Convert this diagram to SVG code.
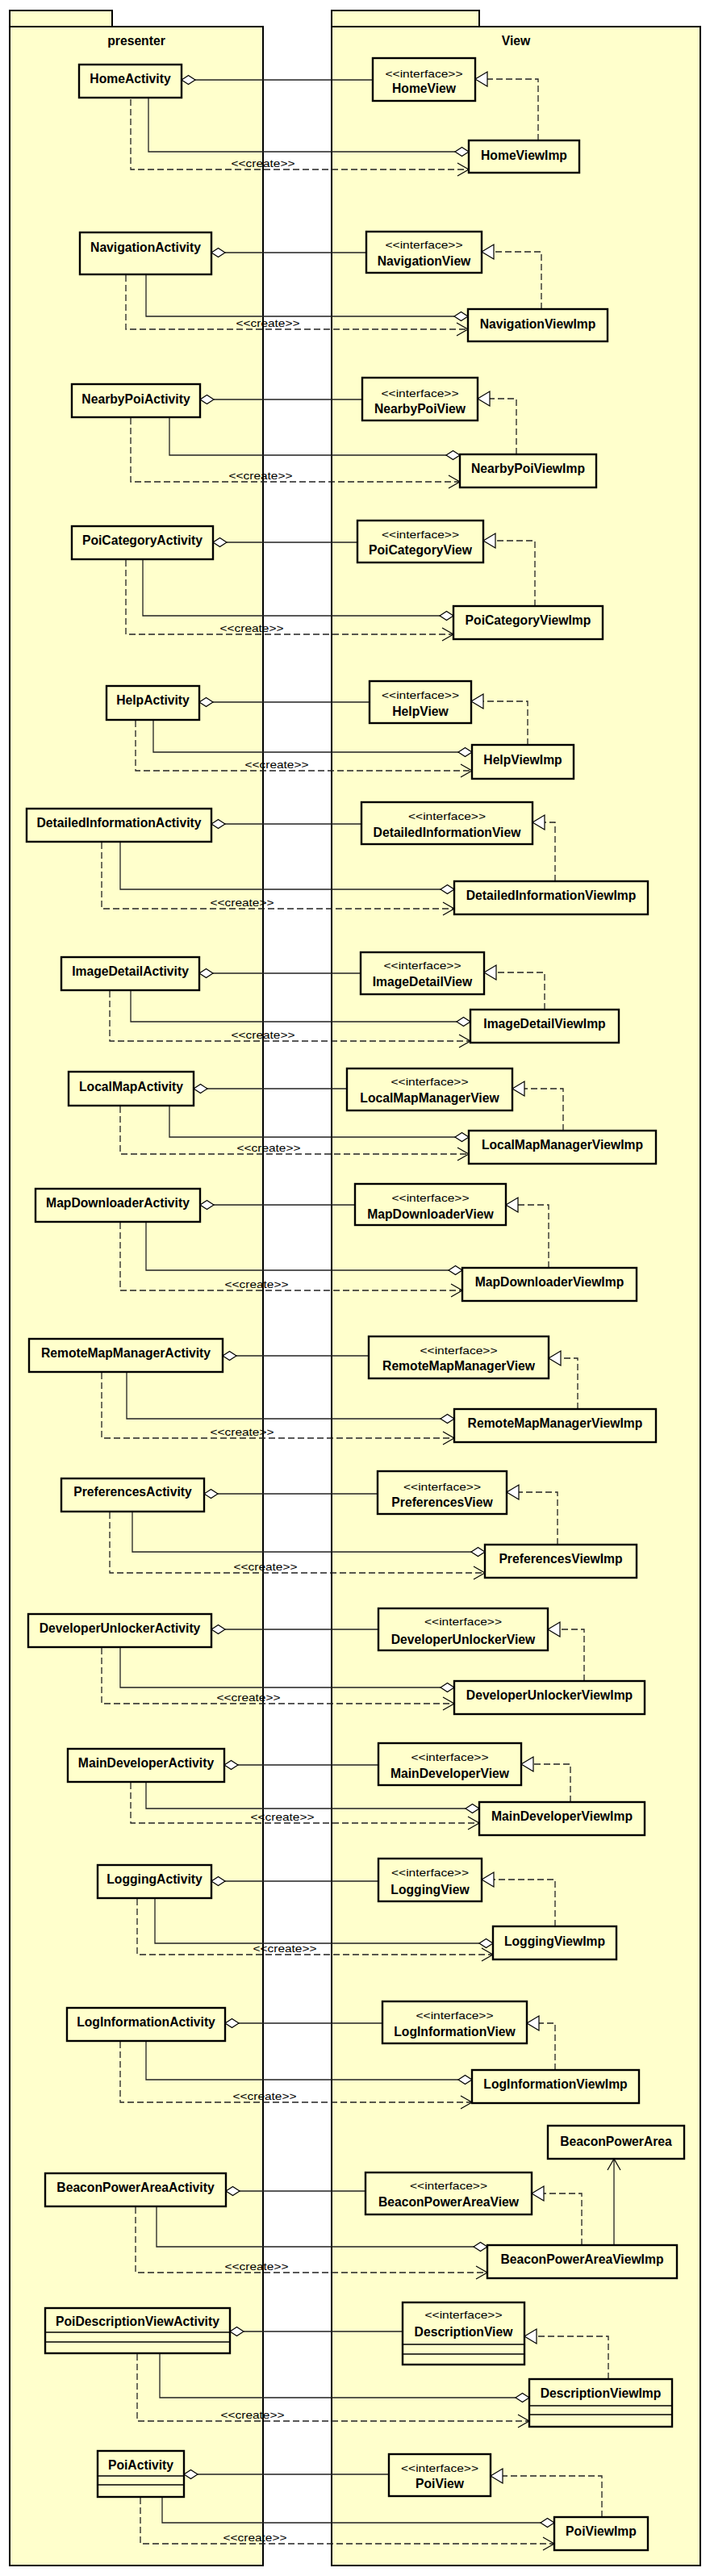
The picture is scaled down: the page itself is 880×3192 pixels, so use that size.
<svg xmlns="http://www.w3.org/2000/svg" width="880" height="3192" viewBox="0 0 880 3192">
<style>
.pk{fill:#ffffcc;stroke:#000;stroke-width:2}
.bx{fill:#ffffcc;stroke:#000;stroke-width:2.4}
.cl{stroke:#000;stroke-width:1.6}
.nm{font-family:"Liberation Sans",Arial,sans-serif;font-weight:bold;font-size:15.7px;text-anchor:middle;fill:#000}
.st{font-family:"Liberation Sans",Arial,sans-serif;font-size:13px;text-anchor:middle;fill:#000}
.ln{fill:none;stroke:#222;stroke-width:1.3}
.dl{fill:none;stroke:#222;stroke-width:1.3;stroke-dasharray:8,4}
.a1{marker-start:url(#dia)}
.a2{marker-end:url(#dia)}
.cr{marker-end:url(#opn)}
.re{marker-end:url(#tri)}
</style>
<defs>
<marker id="dia" markerUnits="userSpaceOnUse" markerWidth="20" markerHeight="14" refX="17" refY="0" orient="auto-start-reverse" style="overflow:visible"><path d="M0,0 L8.5,-5.5 L17,0 L8.5,5.5 Z" fill="#fff" stroke="#000" stroke-width="1.2"/></marker>
<marker id="opn" markerUnits="userSpaceOnUse" markerWidth="16" markerHeight="18" refX="14" refY="0" orient="auto" style="overflow:visible"><path d="M0,-8 L14,0 L0,8" fill="none" stroke="#000" stroke-width="1.2"/></marker>
<marker id="tri" markerUnits="userSpaceOnUse" markerWidth="16" markerHeight="20" refX="15" refY="0" orient="auto" style="overflow:visible"><path d="M0,-9 L15,0 L0,9 Z" fill="#fff" stroke="#000" stroke-width="1.2"/></marker>
</defs>
<rect width="880" height="3192" fill="#fff"/>
<g id="pkg-presenter">
<rect class="pk" x="12" y="13" width="127" height="20"/>
<rect class="pk" x="12" y="33" width="314" height="3146"/>
<text class="nm" x="169" y="56">presenter</text>
</g>
<g id="pkg-view">
<rect class="pk" x="411" y="13" width="183" height="20"/>
<rect class="pk" x="411" y="33" width="457" height="3146"/>
<text class="nm" x="639.5" y="56">View</text>
</g>
<g id="connectors">
<path class="ln a1" d="M225,99 H462"/><path class="ln a2" d="M184,121 V188 H581"/><path class="dl cr" d="M162,123 V210 H581"/><path class="dl re" d="M667,174 V98 H589"/><text class="st" x="326" y="206.5" textLength="79" lengthAdjust="spacingAndGlyphs">&lt;&lt;create&gt;&gt;</text>
<path class="ln a1" d="M262,313 H454"/><path class="ln a2" d="M181,340 V392 H580"/><path class="dl cr" d="M156,341 V408 H580"/><path class="dl re" d="M671,383 V312 H597"/><text class="st" x="332" y="404.5" textLength="79" lengthAdjust="spacingAndGlyphs">&lt;&lt;create&gt;&gt;</text>
<path class="ln a1" d="M248,495 H449"/><path class="ln a2" d="M210,517 V564 H570"/><path class="dl cr" d="M162,518 V597 H570"/><path class="dl re" d="M640,563 V494 H592"/><text class="st" x="323" y="593.5" textLength="79" lengthAdjust="spacingAndGlyphs">&lt;&lt;create&gt;&gt;</text>
<path class="ln a1" d="M264,672 H443"/><path class="ln a2" d="M177,693 V763 H562"/><path class="dl cr" d="M156,694 V786 H562"/><path class="dl re" d="M663,751 V670 H599"/><text class="st" x="312" y="782.5" textLength="79" lengthAdjust="spacingAndGlyphs">&lt;&lt;create&gt;&gt;</text>
<path class="ln a1" d="M247,870 H458"/><path class="ln a2" d="M190,892 V932 H585"/><path class="dl cr" d="M168,893 V955 H585"/><path class="dl re" d="M654,923 V869 H584"/><text class="st" x="343" y="951.5" textLength="79" lengthAdjust="spacingAndGlyphs">&lt;&lt;create&gt;&gt;</text>
<path class="ln a1" d="M262,1021 H448"/><path class="ln a2" d="M149,1043 V1102 H563"/><path class="dl cr" d="M126,1044 V1126 H563"/><path class="dl re" d="M688,1092 V1019 H660"/><text class="st" x="300" y="1122.5" textLength="79" lengthAdjust="spacingAndGlyphs">&lt;&lt;create&gt;&gt;</text>
<path class="ln a1" d="M247,1206 H447"/><path class="ln a2" d="M162,1227 V1266 H583"/><path class="dl cr" d="M136,1228 V1290 H583"/><path class="dl re" d="M675,1251 V1205 H600"/><text class="st" x="326" y="1286.5" textLength="79" lengthAdjust="spacingAndGlyphs">&lt;&lt;create&gt;&gt;</text>
<path class="ln a1" d="M240,1349 H430"/><path class="ln a2" d="M210,1370 V1409 H581"/><path class="dl cr" d="M149,1371 V1430 H581"/><path class="dl re" d="M698,1401 V1349 H635"/><text class="st" x="333" y="1426.5" textLength="79" lengthAdjust="spacingAndGlyphs">&lt;&lt;create&gt;&gt;</text>
<path class="ln a1" d="M248,1493 H440"/><path class="ln a2" d="M181,1514 V1574 H573"/><path class="dl cr" d="M149,1515 V1599 H573"/><path class="dl re" d="M680,1571 V1493 H627"/><text class="st" x="318" y="1595.5" textLength="79" lengthAdjust="spacingAndGlyphs">&lt;&lt;create&gt;&gt;</text>
<path class="ln a1" d="M276,1680 H457"/><path class="ln a2" d="M157,1700 V1758 H563"/><path class="dl cr" d="M126,1701 V1782 H563"/><path class="dl re" d="M716,1746 V1683 H680"/><text class="st" x="300" y="1778.5" textLength="79" lengthAdjust="spacingAndGlyphs">&lt;&lt;create&gt;&gt;</text>
<path class="ln a1" d="M253,1851 H468"/><path class="ln a2" d="M164,1873 V1923 H601"/><path class="dl cr" d="M136,1874 V1949 H601"/><path class="dl re" d="M691,1914 V1849 H628"/><text class="st" x="329" y="1945.5" textLength="79" lengthAdjust="spacingAndGlyphs">&lt;&lt;create&gt;&gt;</text>
<path class="ln a1" d="M262,2019 H469"/><path class="ln a2" d="M149,2041 V2091 H563"/><path class="dl cr" d="M126,2042 V2111 H563"/><path class="dl re" d="M724,2083 V2019 H679"/><text class="st" x="308" y="2107.5" textLength="79" lengthAdjust="spacingAndGlyphs">&lt;&lt;create&gt;&gt;</text>
<path class="ln a1" d="M278,2187 H469"/><path class="ln a2" d="M181,2208 V2241 H594"/><path class="dl cr" d="M162,2209 V2259 H594"/><path class="dl re" d="M707,2233 V2186 H646"/><text class="st" x="350" y="2255.5" textLength="79" lengthAdjust="spacingAndGlyphs">&lt;&lt;create&gt;&gt;</text>
<path class="ln a1" d="M262,2331 H469"/><path class="ln a2" d="M192,2352 V2408 H611"/><path class="dl cr" d="M170,2353 V2422 H611"/><path class="dl re" d="M688,2387 V2329 H597"/><text class="st" x="353" y="2418.5" textLength="79" lengthAdjust="spacingAndGlyphs">&lt;&lt;create&gt;&gt;</text>
<path class="ln a1" d="M279,2507 H474"/><path class="ln a2" d="M181,2529 V2577 H585"/><path class="dl cr" d="M149,2530 V2605 H585"/><path class="dl re" d="M688,2565 V2507 H653"/><text class="st" x="328" y="2601.5" textLength="79" lengthAdjust="spacingAndGlyphs">&lt;&lt;create&gt;&gt;</text>
<path class="ln a1" d="M280,2715 H453"/><path class="ln a2" d="M194,2734 V2784 H604"/><path class="dl cr" d="M168,2735 V2816 H604"/><path class="dl re" d="M721,2782 V2718 H659"/><text class="st" x="318" y="2812.5" textLength="79" lengthAdjust="spacingAndGlyphs">&lt;&lt;create&gt;&gt;</text>
<path class="ln cr" d="M761,2782 V2675"/>
<path class="ln a1" d="M285,2889 H499"/><path class="ln a2" d="M198,2916 V2971 H656"/><path class="dl cr" d="M170,2917 V3000 H656"/><path class="dl re" d="M754,2948 V2895 H650"/><text class="st" x="313" y="2996.5" textLength="79" lengthAdjust="spacingAndGlyphs">&lt;&lt;create&gt;&gt;</text>
<path class="ln a1" d="M228,3066 H482"/><path class="ln a2" d="M201,3094 V3126 H687"/><path class="dl cr" d="M174,3095 V3152 H687"/><path class="dl re" d="M746,3119 V3068 H608"/><text class="st" x="316" y="3148.5" textLength="79" lengthAdjust="spacingAndGlyphs">&lt;&lt;create&gt;&gt;</text>
</g>
<g id="HomeActivity"><rect class="bx" x="98" y="80" width="127" height="41"/><text class="nm" x="161.5" y="103">HomeActivity</text></g>
<g id="HomeView"><rect class="bx" x="462" y="72" width="127" height="53"/><text class="st" x="525.5" y="96" textLength="96" lengthAdjust="spacingAndGlyphs">&lt;&lt;interface&gt;&gt;</text><text class="nm" x="525.5" y="115">HomeView</text></g>
<g id="HomeViewImp"><rect class="bx" x="581" y="174" width="137" height="40"/><text class="nm" x="649.5" y="198">HomeViewImp</text></g>
<g id="NavigationActivity"><rect class="bx" x="99" y="288" width="163" height="52"/><text class="nm" x="180.5" y="312">NavigationActivity</text></g>
<g id="NavigationView"><rect class="bx" x="454" y="287" width="143" height="51"/><text class="st" x="525.5" y="308" textLength="96" lengthAdjust="spacingAndGlyphs">&lt;&lt;interface&gt;&gt;</text><text class="nm" x="525.5" y="329">NavigationView</text></g>
<g id="NavigationViewImp"><rect class="bx" x="580" y="383" width="173" height="40"/><text class="nm" x="666.5" y="407">NavigationViewImp</text></g>
<g id="NearbyPoiActivity"><rect class="bx" x="89" y="476" width="159" height="41"/><text class="nm" x="168.5" y="500">NearbyPoiActivity</text></g>
<g id="NearbyPoiView"><rect class="bx" x="449" y="468" width="143" height="53"/><text class="st" x="520.5" y="492" textLength="96" lengthAdjust="spacingAndGlyphs">&lt;&lt;interface&gt;&gt;</text><text class="nm" x="520.5" y="512">NearbyPoiView</text></g>
<g id="NearbyPoiViewImp"><rect class="bx" x="570" y="563" width="169" height="41"/><text class="nm" x="654.5" y="586">NearbyPoiViewImp</text></g>
<g id="PoiCategoryActivity"><rect class="bx" x="89" y="652" width="175" height="41"/><text class="nm" x="176.5" y="675">PoiCategoryActivity</text></g>
<g id="PoiCategoryView"><rect class="bx" x="443" y="645" width="156" height="52"/><text class="st" x="521" y="667" textLength="96" lengthAdjust="spacingAndGlyphs">&lt;&lt;interface&gt;&gt;</text><text class="nm" x="521" y="687">PoiCategoryView</text></g>
<g id="PoiCategoryViewImp"><rect class="bx" x="562" y="751" width="185" height="41"/><text class="nm" x="654.5" y="774">PoiCategoryViewImp</text></g>
<g id="HelpActivity"><rect class="bx" x="132" y="850" width="115" height="42"/><text class="nm" x="189.5" y="873">HelpActivity</text></g>
<g id="HelpView"><rect class="bx" x="458" y="844" width="126" height="52"/><text class="st" x="521" y="866" textLength="96" lengthAdjust="spacingAndGlyphs">&lt;&lt;interface&gt;&gt;</text><text class="nm" x="521" y="887">HelpView</text></g>
<g id="HelpViewImp"><rect class="bx" x="585" y="923" width="126" height="42"/><text class="nm" x="648" y="947">HelpViewImp</text></g>
<g id="DetailedInformationActivity"><rect class="bx" x="33" y="1002" width="229" height="41"/><text class="nm" x="147.5" y="1025">DetailedInformationActivity</text></g>
<g id="DetailedInformationView"><rect class="bx" x="448" y="994" width="212" height="52"/><text class="st" x="554" y="1016" textLength="96" lengthAdjust="spacingAndGlyphs">&lt;&lt;interface&gt;&gt;</text><text class="nm" x="554" y="1037">DetailedInformationView</text></g>
<g id="DetailedInformationViewImp"><rect class="bx" x="563" y="1092" width="240" height="41"/><text class="nm" x="683" y="1115">DetailedInformationViewImp</text></g>
<g id="ImageDetailActivity"><rect class="bx" x="76" y="1186" width="171" height="41"/><text class="nm" x="161.5" y="1209">ImageDetailActivity</text></g>
<g id="ImageDetailView"><rect class="bx" x="447" y="1180" width="153" height="52"/><text class="st" x="523.5" y="1201" textLength="96" lengthAdjust="spacingAndGlyphs">&lt;&lt;interface&gt;&gt;</text><text class="nm" x="523.5" y="1222">ImageDetailView</text></g>
<g id="ImageDetailViewImp"><rect class="bx" x="583" y="1251" width="184" height="41"/><text class="nm" x="675" y="1274">ImageDetailViewImp</text></g>
<g id="LocalMapActivity"><rect class="bx" x="85" y="1328" width="155" height="42"/><text class="nm" x="162.5" y="1352">LocalMapActivity</text></g>
<g id="LocalMapManagerView"><rect class="bx" x="430" y="1324" width="205" height="52"/><text class="st" x="532.5" y="1345" textLength="96" lengthAdjust="spacingAndGlyphs">&lt;&lt;interface&gt;&gt;</text><text class="nm" x="532.5" y="1366">LocalMapManagerView</text></g>
<g id="LocalMapManagerViewImp"><rect class="bx" x="581" y="1401" width="232" height="41"/><text class="nm" x="697" y="1424">LocalMapManagerViewImp</text></g>
<g id="MapDownloaderActivity"><rect class="bx" x="44" y="1473" width="204" height="41"/><text class="nm" x="146" y="1496">MapDownloaderActivity</text></g>
<g id="MapDownloaderView"><rect class="bx" x="440" y="1467" width="187" height="51"/><text class="st" x="533.5" y="1489" textLength="96" lengthAdjust="spacingAndGlyphs">&lt;&lt;interface&gt;&gt;</text><text class="nm" x="533.5" y="1510">MapDownloaderView</text></g>
<g id="MapDownloaderViewImp"><rect class="bx" x="573" y="1571" width="216" height="41"/><text class="nm" x="681" y="1594">MapDownloaderViewImp</text></g>
<g id="RemoteMapManagerActivity"><rect class="bx" x="36" y="1659" width="240" height="41"/><text class="nm" x="156" y="1682">RemoteMapManagerActivity</text></g>
<g id="RemoteMapManagerView"><rect class="bx" x="457" y="1656" width="223" height="52"/><text class="st" x="568.5" y="1678" textLength="96" lengthAdjust="spacingAndGlyphs">&lt;&lt;interface&gt;&gt;</text><text class="nm" x="568.5" y="1698">RemoteMapManagerView</text></g>
<g id="RemoteMapManagerViewImp"><rect class="bx" x="563" y="1746" width="250" height="41"/><text class="nm" x="688" y="1769">RemoteMapManagerViewImp</text></g>
<g id="PreferencesActivity"><rect class="bx" x="76" y="1832" width="177" height="41"/><text class="nm" x="164.5" y="1854">PreferencesActivity</text></g>
<g id="PreferencesView"><rect class="bx" x="468" y="1823" width="160" height="53"/><text class="st" x="548" y="1847" textLength="96" lengthAdjust="spacingAndGlyphs">&lt;&lt;interface&gt;&gt;</text><text class="nm" x="548" y="1867">PreferencesView</text></g>
<g id="PreferencesViewImp"><rect class="bx" x="601" y="1914" width="188" height="41"/><text class="nm" x="695" y="1937">PreferencesViewImp</text></g>
<g id="DeveloperUnlockerActivity"><rect class="bx" x="35" y="2000" width="227" height="41"/><text class="nm" x="148.5" y="2023">DeveloperUnlockerActivity</text></g>
<g id="DeveloperUnlockerView"><rect class="bx" x="469" y="1993" width="210" height="52"/><text class="st" x="574" y="2014" textLength="96" lengthAdjust="spacingAndGlyphs">&lt;&lt;interface&gt;&gt;</text><text class="nm" x="574" y="2037">DeveloperUnlockerView</text></g>
<g id="DeveloperUnlockerViewImp"><rect class="bx" x="563" y="2083" width="236" height="41"/><text class="nm" x="681" y="2106">DeveloperUnlockerViewImp</text></g>
<g id="MainDeveloperActivity"><rect class="bx" x="84" y="2167" width="194" height="41"/><text class="nm" x="181" y="2190">MainDeveloperActivity</text></g>
<g id="MainDeveloperView"><rect class="bx" x="469" y="2160" width="177" height="52"/><text class="st" x="557.5" y="2182" textLength="96" lengthAdjust="spacingAndGlyphs">&lt;&lt;interface&gt;&gt;</text><text class="nm" x="557.5" y="2203">MainDeveloperView</text></g>
<g id="MainDeveloperViewImp"><rect class="bx" x="594" y="2233" width="205" height="41"/><text class="nm" x="696.5" y="2256">MainDeveloperViewImp</text></g>
<g id="LoggingActivity"><rect class="bx" x="121" y="2311" width="141" height="41"/><text class="nm" x="191.5" y="2334">LoggingActivity</text></g>
<g id="LoggingView"><rect class="bx" x="469" y="2303" width="128" height="53"/><text class="st" x="533" y="2325" textLength="96" lengthAdjust="spacingAndGlyphs">&lt;&lt;interface&gt;&gt;</text><text class="nm" x="533" y="2347">LoggingView</text></g>
<g id="LoggingViewImp"><rect class="bx" x="611" y="2387" width="153" height="41"/><text class="nm" x="687.5" y="2411">LoggingViewImp</text></g>
<g id="LogInformationActivity"><rect class="bx" x="83" y="2488" width="196" height="41"/><text class="nm" x="181" y="2511">LogInformationActivity</text></g>
<g id="LogInformationView"><rect class="bx" x="474" y="2480" width="179" height="52"/><text class="st" x="563.5" y="2502" textLength="96" lengthAdjust="spacingAndGlyphs">&lt;&lt;interface&gt;&gt;</text><text class="nm" x="563.5" y="2523">LogInformationView</text></g>
<g id="LogInformationViewImp"><rect class="bx" x="585" y="2565" width="207" height="41"/><text class="nm" x="688.5" y="2588">LogInformationViewImp</text></g>
<g id="BeaconPowerArea"><rect class="bx" x="679" y="2634" width="169" height="41"/><text class="nm" x="763.5" y="2659">BeaconPowerArea</text></g>
<g id="BeaconPowerAreaActivity"><rect class="bx" x="56" y="2693" width="224" height="41"/><text class="nm" x="168" y="2716">BeaconPowerAreaActivity</text></g>
<g id="BeaconPowerAreaView"><rect class="bx" x="453" y="2692" width="206" height="52"/><text class="st" x="556" y="2713" textLength="96" lengthAdjust="spacingAndGlyphs">&lt;&lt;interface&gt;&gt;</text><text class="nm" x="556" y="2734">BeaconPowerAreaView</text></g>
<g id="BeaconPowerAreaViewImp"><rect class="bx" x="604" y="2782" width="235" height="41"/><text class="nm" x="721.5" y="2805">BeaconPowerAreaViewImp</text></g>
<g id="PoiDescriptionViewActivity"><rect class="bx" x="56" y="2860" width="229" height="56"/><line class="cl" x1="56" y1="2890" x2="285" y2="2890"/><line class="cl" x1="56" y1="2902" x2="285" y2="2902"/><text class="nm" x="170.5" y="2882">PoiDescriptionViewActivity</text></g>
<g id="DescriptionView"><rect class="bx" x="499" y="2853" width="151" height="77"/><line class="cl" x1="499" y1="2905" x2="650" y2="2905"/><line class="cl" x1="499" y1="2917" x2="650" y2="2917"/><text class="st" x="574.5" y="2873" textLength="96" lengthAdjust="spacingAndGlyphs">&lt;&lt;interface&gt;&gt;</text><text class="nm" x="574.5" y="2895">DescriptionView</text></g>
<g id="DescriptionViewImp"><rect class="bx" x="656" y="2948" width="177" height="59"/><line class="cl" x1="656" y1="2981" x2="833" y2="2981"/><line class="cl" x1="656" y1="2992" x2="833" y2="2992"/><text class="nm" x="744.5" y="2971">DescriptionViewImp</text></g>
<g id="PoiActivity"><rect class="bx" x="121" y="3037" width="107" height="57"/><line class="cl" x1="121" y1="3068" x2="228" y2="3068"/><line class="cl" x1="121" y1="3079" x2="228" y2="3079"/><text class="nm" x="174.5" y="3060">PoiActivity</text></g>
<g id="PoiView"><rect class="bx" x="482" y="3041" width="126" height="52"/><text class="st" x="545" y="3063" textLength="96" lengthAdjust="spacingAndGlyphs">&lt;&lt;interface&gt;&gt;</text><text class="nm" x="545" y="3083">PoiView</text></g>
<g id="PoiViewImp"><rect class="bx" x="687" y="3119" width="116" height="41"/><text class="nm" x="745" y="3142">PoiViewImp</text></g>
</svg>
